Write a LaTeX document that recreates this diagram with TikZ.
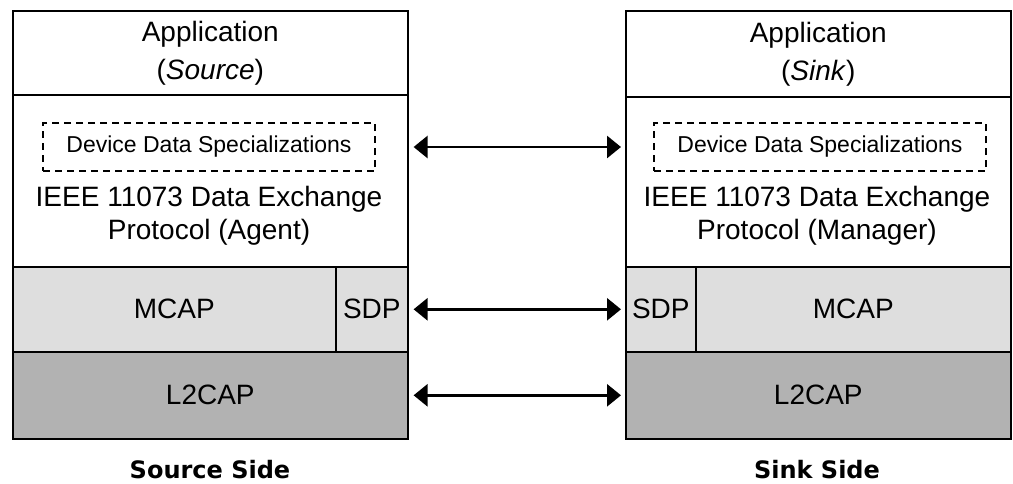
\documentclass[tikz,border=0pt]{standalone}
\usepackage{fontspec}
\setmainfont{Liberation Sans}
\newfontfamily\sidefont{DejaVu Sans}
\usetikzlibrary{arrows.meta}

\begin{document}
\begin{tikzpicture}[x=1pt,y=-1pt,
  % common options for the layer blocks:
  layer/.style = {draw, line width=1.6pt, anchor=north west, inner sep=0,
              align=center, font=\fontsize{28}{34}\selectfont},
  light/.style = {fill=black!13},
  dark/.style = {fill=black!30},
  % the dashed box and the plain texts:
  special/.style = {draw, dashed, line width=1.4pt, dash pattern=on 7pt off 5pt,
              minimum width=332pt, minimum height=48pt, inner sep=0,
              font=\fontsize{23}{28}\selectfont},
  proto/.style = {align=center, inner sep=0, font=\fontsize{28}{33}\selectfont},
  side/.style = {inner sep=0, font=\sidefont\bfseries\fontsize{24}{28}\selectfont},
  % the links between both sides:
  link/.style = {line width=2.8pt,
              {Triangle[length=14pt,width=22pt]}-{Triangle[length=14pt,width=22pt]},
              shorten <=5pt, shorten >=4pt}]
\useasboundingbox (0,0) rectangle (1013,483);
% source side
\node[layer,minimum width=395pt,minimum height=84pt] (appS) at (12,10) {Application\\[4pt](\textit{Source})};
\node[layer,minimum width=395pt,minimum height=172pt] (dxpS) at (12,94) {};
\node[special] (ddsS) at (209,147) {Device Data Specializations};
\node[proto] (protoS) at (209,216) {IEEE 11073 Data Exchange\\Protocol (Agent)};
\node[layer,light,minimum width=323pt,minimum height=85pt] (mcapS) at (12,266) {MCAP};
\node[layer,light,minimum width=72pt,minimum height=85pt] (sdpS) at (335,266) {SDP};
\node[layer,dark,minimum width=395pt,minimum height=87pt] (l2capS) at (12,351) {L2CAP};
\node[side] (sideS) at (210,470) {Source Side};
% sink side
\node[layer,minimum width=385pt,minimum height=86pt] (appK) at (625,10) {Application\\[4pt](\textit{Sink})};
\node[layer,minimum width=385pt,minimum height=170pt] (dxpK) at (625,96) {};
\node[special] (ddsK) at (820,147) {Device Data Specializations};
\node[proto] (protoK) at (817,216) {IEEE 11073 Data Exchange\\Protocol (Manager)};
\node[layer,light,minimum width=70pt,minimum height=85pt] (sdpK) at (625,266) {SDP};
\node[layer,light,minimum width=315pt,minimum height=85pt] (mcapK) at (695,266) {MCAP};
\node[layer,dark,minimum width=385pt,minimum height=87pt] (l2capK) at (625,351) {L2CAP};
\node[side] (sideK) at (817,470) {Sink Side};
% links
\draw[link] (ddsS -| dxpS.east) -- (ddsK -| dxpK.west);
\draw[link] (sdpS.east) -- (sdpK.west);
\draw[link] (l2capS.east) -- (l2capK.west);
\end{tikzpicture}
\end{document}
